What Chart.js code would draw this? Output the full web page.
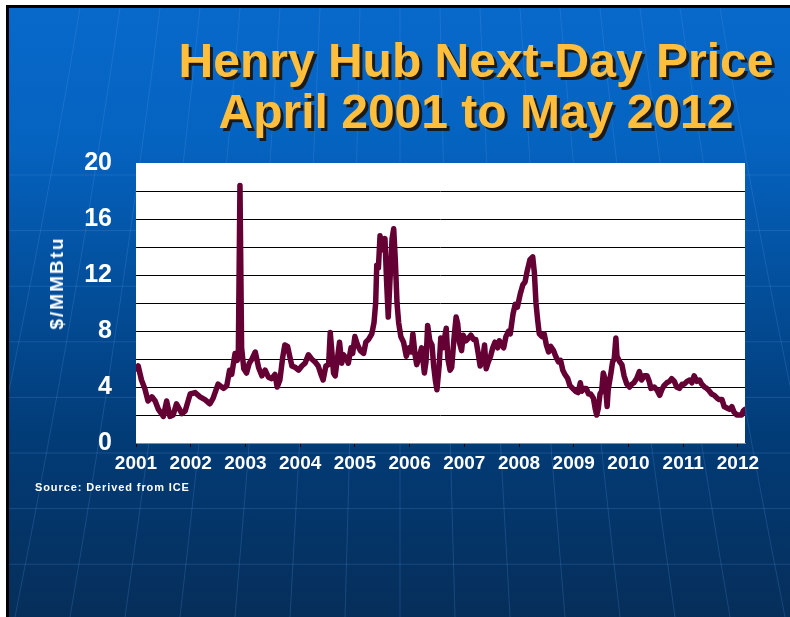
<!DOCTYPE html>
<html>
<head>
<meta charset="utf-8">
<script src="https://cdn.jsdelivr.net/npm/chart.js@4/dist/chart.umd.min.js"></script>
<style>
  html, body { margin: 0; padding: 0; background: #fff; }
  body { width: 790px; height: 617px; overflow: hidden; position: relative; font-family: "Liberation Sans", Arial, sans-serif; }
  #slide { position: absolute; left: 6px; top: 5px; width: 784px; height: 612px; box-sizing: border-box;
    border-left: 3px solid #000; border-top: 3px solid #000;
    background: linear-gradient(to bottom, #0869cb 0%, #0563c0 22%, #034f9c 45%, #023c77 70%, #062e5a 100%); }
  #chart { position: absolute; left: 0; top: 0; }
  .title { position: absolute; left: 76px; width: 800px; top: 35px; text-align: center; white-space: nowrap;
    font-size: 48px; line-height: 51px; font-weight: bold; color: #ffbe3c; text-shadow: 3px 3px 0 #1b1b1b; }
  .ytitle { position: absolute; left: 57px; top: 283px; transform: translate(-50%, -50%) rotate(-90deg); white-space: nowrap;
    font-size: 19px; letter-spacing: 2px; font-weight: bold; color: #fff; }
  .source { position: absolute; left: 35px; top: 482px; font-size: 11px; line-height: 11px; letter-spacing: 0.9px; font-weight: bold; color: #fff; }
</style>
</head>
<body>
<div id="slide"></div>
<canvas id="chart" width="790" height="617"></canvas>
<div class="title">Henry Hub Next-Day Price<br>April 2001 to May 2012</div>
<div class="ytitle">$/MMBtu</div>
<div class="source">Source: Derived from ICE</div>
<script>
// decimal year position on the axis (2001 = start of series, April 2001)
const yearPos = [
  2001.00, 2001.04, 2001.10, 2001.16, 2001.22, 2001.29, 2001.35, 2001.41, 2001.50, 2001.56,
  2001.62, 2001.68, 2001.74, 2001.84, 2001.90, 2001.99, 2002.08, 2002.17, 2002.26, 2002.35,
  2002.41, 2002.50, 2002.60, 2002.66, 2002.71, 2002.75, 2002.81, 2002.85, 2002.87, 2002.90,
  2002.93, 2002.97, 2003.02, 2003.07, 2003.12, 2003.18, 2003.24, 2003.30, 2003.36, 2003.42,
  2003.48, 2003.54, 2003.58, 2003.63, 2003.68, 2003.72, 2003.77, 2003.82, 2003.85, 2003.91,
  2003.97, 2004.03, 2004.09, 2004.15, 2004.21, 2004.27, 2004.33, 2004.39, 2004.42, 2004.47,
  2004.52, 2004.55, 2004.58, 2004.61, 2004.64, 2004.68, 2004.72, 2004.76, 2004.79, 2004.85,
  2004.88, 2004.93, 2004.96, 2005.00, 2005.05, 2005.10, 2005.16, 2005.20, 2005.25, 2005.31,
  2005.35, 2005.38, 2005.40, 2005.43, 2005.46, 2005.51, 2005.55, 2005.58, 2005.61, 2005.64,
  2005.68, 2005.71, 2005.74, 2005.77, 2005.80, 2005.84, 2005.89, 2005.94, 2005.99, 2006.03,
  2006.06, 2006.10, 2006.13, 2006.18, 2006.22, 2006.27, 2006.30, 2006.33, 2006.37, 2006.41,
  2006.44, 2006.47, 2006.50, 2006.54, 2006.57, 2006.61, 2006.63, 2006.67, 2006.70, 2006.74,
  2006.77, 2006.81, 2006.85, 2006.88, 2006.91, 2006.95, 2006.98, 2007.03, 2007.08, 2007.12,
  2007.17, 2007.21, 2007.25, 2007.29, 2007.33, 2007.37, 2007.40, 2007.44, 2007.48, 2007.52,
  2007.56, 2007.61, 2007.64, 2007.69, 2007.72, 2007.76, 2007.81, 2007.84, 2007.89, 2007.93,
  2007.97, 2008.02, 2008.07, 2008.11, 2008.15, 2008.20, 2008.25, 2008.28, 2008.31, 2008.34,
  2008.37, 2008.42, 2008.46, 2008.50, 2008.54, 2008.58, 2008.63, 2008.67, 2008.72, 2008.76,
  2008.80, 2008.84, 2008.89, 2008.93, 2008.98, 2009.03, 2009.08, 2009.12, 2009.15, 2009.18,
  2009.23, 2009.27, 2009.31, 2009.36, 2009.39, 2009.42, 2009.45, 2009.48, 2009.51, 2009.54,
  2009.57, 2009.61, 2009.63, 2009.68, 2009.71, 2009.74, 2009.77, 2009.79, 2009.84, 2009.88,
  2009.92, 2009.97, 2010.02, 2010.06, 2010.10, 2010.15, 2010.20, 2010.24, 2010.29, 2010.34,
  2010.38, 2010.41, 2010.47, 2010.52, 2010.57, 2010.61, 2010.65, 2010.70, 2010.75, 2010.79,
  2010.84, 2010.88, 2010.93, 2010.98, 2011.02, 2011.07, 2011.12, 2011.16, 2011.20, 2011.25,
  2011.30, 2011.34, 2011.39, 2011.43, 2011.48, 2011.52, 2011.57, 2011.62, 2011.66, 2011.71,
  2011.75, 2011.80, 2011.85, 2011.89, 2011.93, 2011.98, 2012.03, 2012.07, 2012.10, 2012.13
];

// Henry Hub next-day price, $/MMBtu
const price = [
  5.3, 5.5, 4.5, 3.9, 3.0, 3.3, 3.0, 2.4, 1.9, 3.0,
  1.9, 2.0, 2.8, 2.1, 2.3, 3.5, 3.6, 3.3, 3.1, 2.8,
  3.2, 4.2, 3.9, 4.1, 5.2, 4.9, 6.4, 5.9, 6.3, 18.4,
  6.8, 5.3, 5.0, 5.7, 6.0, 6.5, 5.4, 4.8, 5.2, 4.7,
  4.6, 4.9, 4.0, 4.5, 6.1, 7.0, 6.9, 6.0, 5.5, 5.4,
  5.2, 5.5, 5.7, 6.3, 6.0, 5.8, 5.5, 4.8, 4.5, 5.5,
  5.6, 7.9, 6.5, 5.0, 4.8, 6.0, 7.2, 5.7, 6.3, 6.0,
  5.7, 6.8, 6.4, 7.6, 7.0, 6.6, 6.4, 7.2, 7.4, 7.8,
  8.6, 10.0, 12.7, 12.5, 14.8, 13.8, 14.6, 11.5, 9.0, 11.5,
  14.6, 15.3, 13.0, 10.0, 8.6, 7.6, 7.2, 6.2, 6.8, 6.5,
  7.8, 6.3, 5.6, 6.2, 6.8, 5.0, 5.8, 8.4, 7.3, 7.0,
  5.5, 4.5, 3.8, 5.5, 7.5, 6.8, 7.3, 8.2, 6.0, 5.2,
  5.4, 7.4, 9.0, 8.5, 7.2, 6.6, 7.7, 7.3, 7.5, 7.7,
  7.4, 7.4, 6.5, 5.5, 5.8, 7.0, 5.3, 5.8, 6.2, 6.8,
  7.2, 6.8, 7.3, 7.0, 6.8, 7.6, 8.0, 7.8, 9.2, 9.9,
  9.7, 10.6, 11.3, 11.5, 12.3, 13.1, 13.3, 12.2, 10.0, 8.8,
  7.8, 7.6, 7.8, 7.0, 6.5, 6.9, 6.6, 6.2, 5.8, 5.9,
  5.2, 4.9, 4.6, 4.1, 3.9, 3.7, 3.6, 4.3, 3.7, 3.9,
  3.9, 3.5, 3.5, 3.2, 2.5, 2.0, 2.5, 3.5, 3.7, 5.0,
  4.6, 2.6, 3.8, 5.0, 5.8, 6.0, 7.5, 6.2, 5.8, 5.6,
  4.8, 4.2, 4.0, 4.2, 4.3, 4.6, 5.1, 4.5, 4.8, 4.8,
  4.4, 3.9, 4.0, 3.8, 3.4, 3.8, 4.1, 4.3, 4.4, 4.6,
  4.4, 4.0, 3.9, 4.2, 4.2, 4.4, 4.5, 4.3, 4.8, 4.4,
  4.5, 4.2, 4.0, 3.9, 3.7, 3.5, 3.4, 3.2, 3.1, 3.1,
  2.6, 2.5, 2.4, 2.6, 2.2, 2.0, 2.0, 2.0, 2.3, 2.4
];

const yearTicksFrom = 2001;   // first year label
const yearTicksTo = 2012.13;  // axis end (May 2012)
const priceMax = 20;

// faint globe lines behind the plot + white plot area
const slideBackdrop = {
  id: 'slideBackdrop',
  beforeDraw(chart) {
    const { ctx, chartArea: a } = chart;
    ctx.save();
    ctx.beginPath();
    ctx.rect(9, 8, 781, 609);
    ctx.clip();
    ctx.strokeStyle = 'rgba(95,160,235,0.22)';
    ctx.lineWidth = 1;
    for (let y = 175; y < 617; y += 55.6) {
      ctx.beginPath();
      ctx.moveTo(9, y);
      ctx.lineTo(790, y);
      ctx.stroke();
    }
    for (let k = -8; k <= 8; k++) {
      ctx.beginPath();
      ctx.moveTo(400 + k * 40, 8);
      ctx.quadraticCurveTo(400 + k * 46, 300, 400 + k * 55, 617);
      ctx.stroke();
    }
    ctx.restore();
    ctx.fillStyle = '#fff';
    ctx.fillRect(a.left, a.top, a.right - a.left, a.bottom - a.top);
  }
};

Chart.defaults.font.family = '"Liberation Sans", Arial, sans-serif';

new Chart(document.getElementById('chart').getContext('2d'), {
  type: 'line',
  data: {
    datasets: [{
      data: yearPos.map((x, i) => ({ x, y: price[i] })),
      borderColor: '#640033',
      borderWidth: 5.5,
      borderJoinStyle: 'round',
      borderCapStyle: 'round',
      pointRadius: 0,
      tension: 0,
      fill: false
    }]
  },
  options: {
    responsive: false,
    animation: false,
    devicePixelRatio: 1,
    layout: { padding: { left: 80, top: 163, right: 45, bottom: 114 } },
    plugins: {
      legend: { display: false },
      tooltip: { enabled: false }
    },
    scales: {
      x: {
        type: 'linear',
        min: yearTicksFrom,
        max: yearTicksTo,
        afterFit: (s) => { s.height = 60; },
        ticks: {
          stepSize: 1,
          includeBounds: false,
          autoSkip: false,
          maxRotation: 0,
          color: '#fff',
          padding: 5,
          font: { size: 19, weight: 'bold' },
          callback: (v) => String(v)
        },
        grid: { drawOnChartArea: false, drawTicks: true, tickLength: 4, color: '#000' },
        border: { color: '#8c8c8c', width: 1 }
      },
      y: {
        min: 0,
        max: priceMax,
        afterFit: (s) => { s.width = 56; },
        ticks: {
          stepSize: 2,
          autoSkip: false,
          color: '#fff',
          padding: 24,
          font: { size: 25, weight: 'bold' },
          callback: (v) => (v % 4 === 0 ? String(v) : '')
        },
        grid: {
          drawTicks: false,
          lineWidth: 1,
          color: (c) => (c.tick.value === 0 || c.tick.value === priceMax ? 'rgba(0,0,0,0)' : '#000')
        },
        border: { display: false }
      }
    }
  },
  plugins: [slideBackdrop]
});
</script>
</body>
</html>
